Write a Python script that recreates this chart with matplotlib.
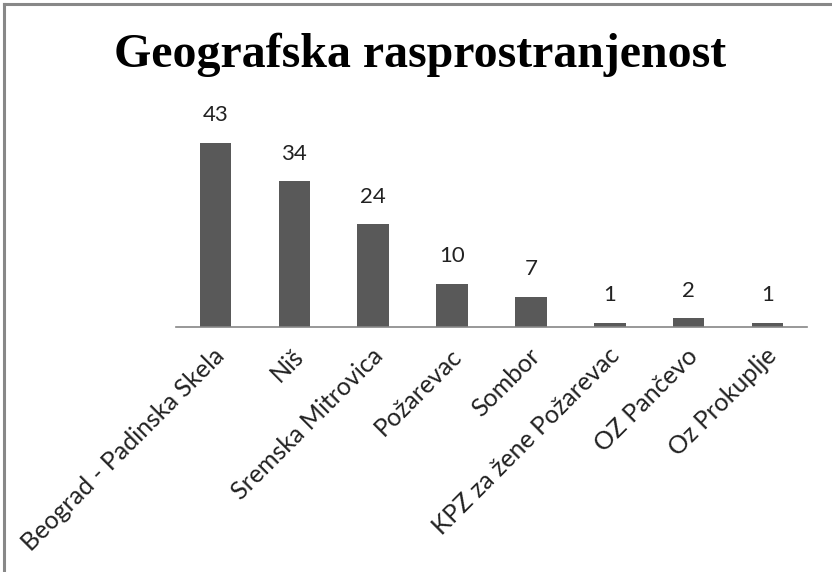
import matplotlib.pyplot as plt
from matplotlib.lines import Line2D
from matplotlib.transforms import ScaledTranslation

# podaci
mesta = ["Beograd - Padinska Skela", "Niš", "Sremska Mitrovica", "Požarevac",
         "Sombor", "KPZ za žene Požarevac", "OZ Pančevo", "Oz Prokuplje"]
broj = [43, 34, 24, 10, 7, 1, 2, 1]

fig = plt.figure(figsize=(8.32, 5.72), dpi=100)
ax = fig.add_axes([176/832, 245/572, 631/832, 214/572])

x = range(len(mesta))
ax.bar(x, broj, width=0.4, color="#595959")
ax.set_xlim(-0.5, len(mesta) - 0.5)
ax.set_ylim(0, 50)

for i, v in zip(x, broj):
    ax.annotate(str(v), (i, v), xytext=(0, 20), textcoords="offset points",
                ha="center", va="center", fontsize=16, family="Lato", color="#222222")

for s in ["top", "right", "left"]:
    ax.spines[s].set_visible(False)
ax.spines["bottom"].set_color("#868686")
ax.spines["bottom"].set_linewidth(1.2)
ax.set_yticks([])
ax.set_xticks(list(x))
ax.set_xticklabels(mesta, rotation=45, ha="right", va="center",
                   rotation_mode="anchor", fontsize=18, family="Lato", color="#222222")
ax.tick_params(axis="x", length=0, pad=0)
off = ScaledTranslation(4/72, -18/72, fig.dpi_scale_trans)
for lbl in ax.get_xticklabels():
    lbl.set_transform(lbl.get_transform() + off)

fig.text(0.505, 1 - 55/572, "Geografska rasprostranjenost", ha="center", va="center",
         fontsize=34.5, fontweight="bold", family="Liberation Serif")

# okvir (vidi se samo gore i levo)
fig.add_artist(Line2D([4/832, 1], [1 - 4/572, 1 - 4/572], color="#888888", lw=2.2))
fig.add_artist(Line2D([4/832, 4/832], [0, 1 - 4/572], color="#888888", lw=2.2))

fig.savefig("out.png", dpi=100)
